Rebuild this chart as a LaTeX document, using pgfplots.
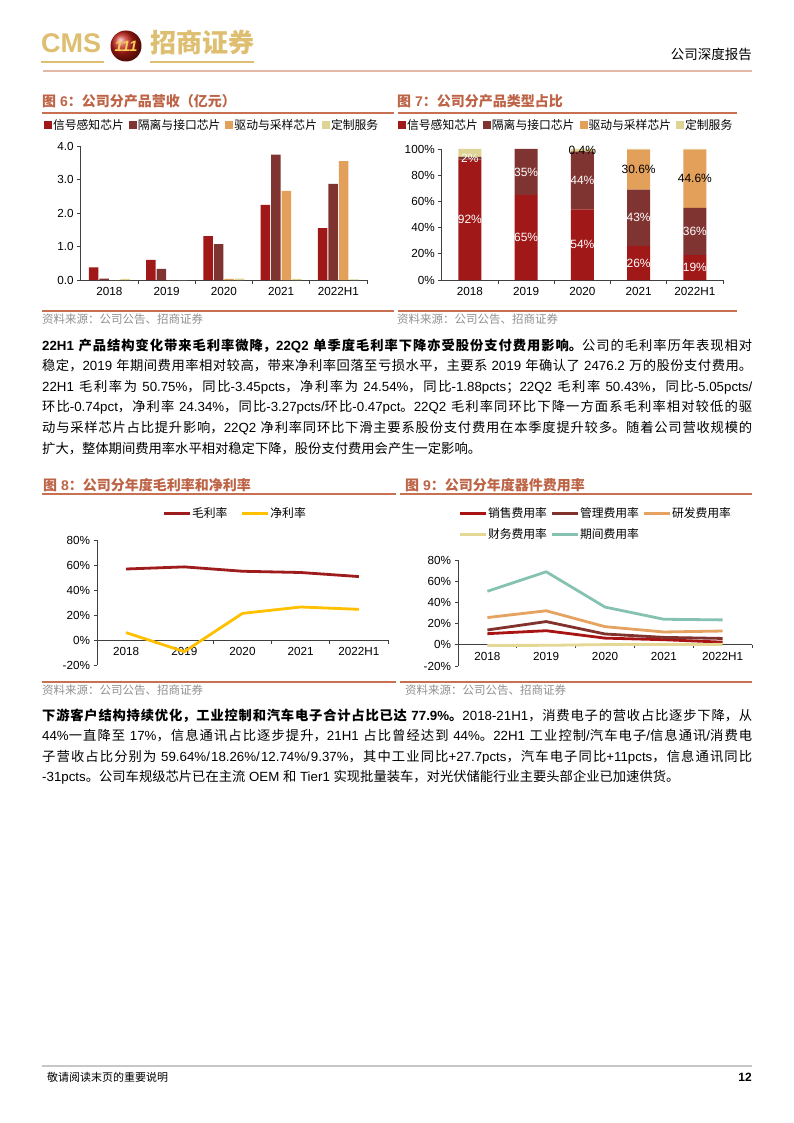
\documentclass[border=0pt]{standalone}
\usepackage{fontspec}
\usepackage{pgfplots}
\pgfplotsset{compat=1.18}
\setmainfont{Liberation Sans}
\newfontfamily\cjk{Noto Sans CJK SC}

% CJK runs switch to the CJK font by themselves
\XeTeXlinebreaklocale "zh"
\XeTeXlinebreakskip=0pt plus 2pt
\newXeTeXintercharclass\cjkclass
\newcount\cc
\def\cjkrange#1#2{\cc=#1\relax
  \loop\ifnum\cc<#2\relax \XeTeXcharclass\cc=\cjkclass \advance\cc by 1 \repeat}
\cjkrange{"3000}{"3040}
\cjkrange{"4E00}{"A000}
\cjkrange{"FF00}{"FFF0}
\XeTeXinterchartoks 0 \cjkclass={\begingroup\cjk}
\XeTeXinterchartoks 4095 \cjkclass={\begingroup\cjk}
\XeTeXinterchartoks \cjkclass 0={\endgroup}
\XeTeXinterchartoks \cjkclass 4095={\endgroup}
\XeTeXinterchartokenstate=1

\definecolor{cSig}{RGB}{160,24,24}
\definecolor{cIso}{RGB}{128,52,50}
\definecolor{cDrv}{RGB}{226,160,90}
\definecolor{cCus}{RGB}{222,212,148}
\definecolor{cTitle}{RGB}{190,100,70}
\definecolor{cRule}{RGB}{200,112,82}
\definecolor{cHead}{RGB}{228,184,168}
\definecolor{cGold}{RGB}{222,190,112}
\definecolor{cGoldL}{RGB}{250,205,90}
\definecolor{cEmb}{RGB}{190,30,20}
\definecolor{cSrc}{RGB}{145,145,145}
\definecolor{cGross}{RGB}{158,28,28}
\definecolor{cNet}{RGB}{255,192,0}
\definecolor{cSale}{RGB}{168,20,20}
\definecolor{cAdm}{RGB}{130,50,45}
\definecolor{cRD}{RGB}{230,162,96}
\definecolor{cFin}{RGB}{228,216,148}
\definecolor{cPer}{RGB}{134,194,178}

\pgfplotsset{
  rep/.style={
    scale only axis, anchor=south west, clip=false,
    xmin=-0.5, xmax=4.5,
    axis x line*=bottom, axis y line*=left,
    axis line style={black!75, line width=0.7pt},
    tick style={black!75, line width=0.7pt},
    tick align=outside, major tick length=3.5pt,
    xtick={0.5,1.5,2.5,3.5,4.5}, xticklabels={},
    extra x ticks={0,1,2,3,4},
    extra x tick labels={2018,2019,2020,2021,2022H1},
    extra x tick style={tick style={draw=none}},
    ticklabel style={font=\fontsize{11.7}{14}\selectfont, text=black},
    /pgf/number format/assume math mode=true,
    hide obscured x ticks=false, hide obscured y ticks=false,
    legend cell align=left,
  },
  barleg/.style={
    legend columns=4,
    legend image code/.code={\draw[##1,draw=none] (0pt,-4pt) rectangle (8pt,4pt);},
    legend style={draw=none, fill=none, inner sep=0pt, outer sep=0pt,
      font=\fontsize{11.8}{14}\selectfont, nodes={inner sep=1pt},
      /tikz/every even column/.append style={column sep=4pt}},
  },
  lineleg/.style={
    legend image code/.code={\draw[##1,line width=3pt] (0pt,0pt) -- (26pt,0pt);},
    legend style={draw=none, fill=none, inner sep=0pt, outer sep=0pt,
      font=\fontsize{11.8}{14}\selectfont, nodes={inner sep=1pt}},
  },
}
\tikzset{
  title/.style={anchor=base west, inner sep=0pt, text=cTitle, font=\fontsize{14}{14}\selectfont\bfseries},
  src/.style={anchor=base west, inner sep=0pt, text=cSrc, font=\fontsize{11.5}{12}\selectfont},
  body/.style={anchor=base west, inner sep=0pt, text width=710pt, align=justify, font=\fontsize{13.3}{20.6}\selectfont},
}

\begin{document}
\begin{tikzpicture}
\useasboundingbox (0pt,0pt) rectangle (794pt,-1123pt);
\fill[white] (0pt,0pt) rectangle (794pt,-1123pt);

% header
\node[anchor=base west, inner sep=0pt, text=cGold, font=\fontsize{27}{27}\selectfont\bfseries] at (41pt,-53pt) {CMS};
\draw[cGold, line width=1.5pt] (41pt,-62pt) -- (104pt,-62pt);
\shade[ball color=cEmb] (126pt,-46pt) circle (15.5pt);
\node[text=cGoldL, font=\fontsize{15}{15}\selectfont\bfseries\itshape] at (126pt,-46pt) {111};
\node[anchor=base west, inner sep=0pt, text=cGold, font=\fontsize{26}{26}\selectfont\bfseries] at (150pt,-53pt) {招商证券};
\draw[cGold, line width=1.5pt] (150pt,-62pt) -- (254pt,-62pt);
\node[anchor=base east, inner sep=0pt, font=\fontsize{13.5}{14}\selectfont] at (752pt,-60pt) {公司深度报告};
\draw[cHead, line width=1.6pt] (43pt,-71pt) -- (752pt,-71pt);

% figure 6 and 7 frames
\node[title] at (42pt,-107pt) {图 6：公司分产品营收（亿元）};
\node[title] at (397pt,-107pt) {图 7：公司分产品类型占比};
\draw[cRule, line width=2pt] (42pt,-113pt) -- (394pt,-113pt);
\draw[cRule, line width=2pt] (398pt,-113pt) -- (737pt,-113pt);
\draw[cRule, line width=2pt] (42pt,-311pt) -- (394pt,-311pt);
\draw[cRule, line width=2pt] (398pt,-311pt) -- (737pt,-311pt);
\node[src] at (42pt,-323pt) {资料来源：公司公告、招商证券};
\node[src] at (397pt,-323pt) {资料来源：公司公告、招商证券};

\begin{axis}[rep, at={(80.7pt,-280pt)}, width=286.3pt, height=134pt,
    ymin=0, ymax=4, ytick={0,1,2,3,4},
    yticklabel style={/pgf/number format/fixed, /pgf/number format/fixed zerofill, /pgf/number format/precision=1},
    ybar=1pt, bar width=9.5pt, barleg,
    legend style={at={(-0.128,1.157)}, anchor=west}]
  \addplot[fill=cSig, draw=none] coordinates {(0,0.38) (1,0.60) (2,1.31) (3,2.24) (4,1.55)};
  \addplot[fill=cIso, draw=none] coordinates {(0,0.04) (1,0.33) (2,1.07) (3,3.74) (4,2.87)};
  \addplot[fill=cDrv, draw=none] coordinates {(0,0) (1,0) (2,0.03) (3,2.66) (4,3.55)};
  \addplot[fill=cCus, draw=none] coordinates {(0,0.03) (1,0) (2,0.04) (3,0.03) (4,0.02)};
  \legend{信号感知芯片,隔离与接口芯片,驱动与采样芯片,定制服务}
\end{axis}

\begin{axis}[rep, at={(441.7pt,-280pt)}, width=281.3pt, height=131pt,
    ymin=0, ymax=100, ytick={0,20,...,100},
    yticklabel={\pgfmathprintnumber{\tick}\%},
    ybar stacked, bar width=23pt, barleg,
    legend style={at={(-0.155,1.183)}, anchor=west}]
  \addplot[fill=cSig, draw=none] coordinates {(0,92) (1,65) (2,54) (3,26) (4,19)};
  \addplot[fill=cIso, draw=none] coordinates {(0,2) (1,35) (2,44) (3,43) (4,36)};
  \addplot[fill=cDrv, draw=none] coordinates {(0,0) (1,0) (2,0.4) (3,30.6) (4,44.6)};
  \addplot[fill=cCus, draw=none] coordinates {(0,6) (1,0) (2,1.6) (3,0.4) (4,0.4)};
  \legend{信号感知芯片,隔离与接口芯片,驱动与采样芯片,定制服务}
\end{axis}
% segment labels of figure 7, at the middle of each segment
\begin{axis}[scale only axis, anchor=south west, at={(441.7pt,-280pt)}, width=281.3pt, height=131pt,
    xmin=-0.5, xmax=4.5, ymin=0, ymax=100, hide axis, clip=false,
    nodes near coords, point meta=explicit symbolic,
    every node near coord/.append style={anchor=center, inner sep=0pt, font=\fontsize{12}{14}\selectfont}]
  \addplot[draw=none, mark=none, every node near coord/.append style={text=white}] coordinates {
    (0,46) [92\%] (1,32.5) [65\%] (2,27) [54\%] (3,13) [26\%] (4,9.5) [19\%]
    (0,92.5) [2\%] (1,82.5) [35\%] (2,76) [44\%] (3,47.5) [43\%] (4,37) [36\%]};
  \addplot[draw=none, mark=none, every node near coord/.append style={text=black}] coordinates {
    (2,99) [0.4\%] (3,84.3) [30.6\%] (4,77.3) [44.6\%]};
\end{axis}

% body text 1
\node[body] at (42pt,-350pt) {{\bfseries 22H1 产品结构变化带来毛利率微降，22Q2 单季度毛利率下降亦受股份支付费用影响。}公司的毛利率历年表现相对\linebreak
稳定，2019 年期间费用率相对较高，带来净利率回落至亏损水平，主要系 2019 年确认了 2476.2 万的股份支付费用。\linebreak
22H1 毛利率为 50.75\%，同比-3.45pcts，净利率为 24.54\%，同比-1.88pcts；22Q2 毛利率 50.43\%，同比-5.05pcts/\linebreak
环比-0.74pct，净利率 24.34\%，同比-3.27pcts/环比-0.47pct。22Q2 毛利率同环比下降一方面系毛利率相对较低的驱\linebreak
动与采样芯片占比提升影响，22Q2 净利率同环比下滑主要系股份支付费用在本季度提升较多。随着公司营收规模的\linebreak
扩大，整体期间费用率水平相对稳定下降，股份支付费用会产生一定影响。};

% figure 8 and 9 frames
\node[title] at (43pt,-490pt) {图 8：公司分年度毛利率和净利率};
\node[title] at (405pt,-490pt) {图 9：公司分年度器件费用率};
\draw[cRule, line width=2pt] (42pt,-494pt) -- (396pt,-494pt);
\draw[cRule, line width=2pt] (400pt,-494pt) -- (752pt,-494pt);
\draw[cRule, line width=2pt] (42pt,-682pt) -- (396pt,-682pt);
\draw[cRule, line width=2pt] (400pt,-682pt) -- (752pt,-682pt);
\node[src] at (42pt,-694pt) {资料来源：公司公告、招商证券};
\node[src] at (405pt,-694pt) {资料来源：公司公告、招商证券};

\begin{axis}[rep, lineleg, at={(97pt,-665pt)}, width=291pt, height=125pt,
    axis x line*=middle, ymin=-20, ymax=80, ytick={-20,0,...,80},
    yticklabel={\pgfmathprintnumber{\tick}\%},
    legend columns=2,
    legend style={at={(0.2234,1.216)}, anchor=west,
      /tikz/every even column/.append style={column sep=12pt}}]
  \addplot[cGross, line width=2.8pt, mark=none, line join=round] coordinates {(0,56.8) (1,58.5) (2,55.0) (3,54.0) (4,50.75)};
  \addplot[cNet, line width=2.8pt, mark=none, line join=round] coordinates {(0,5.9) (1,-9.3) (2,21.3) (3,26.4) (4,24.54)};
  \legend{毛利率,净利率}
\end{axis}

\begin{axis}[rep, lineleg, at={(458pt,-666pt)}, width=294pt, height=106pt,
    axis x line*=middle, ymin=-20, ymax=80, ytick={-20,0,...,80},
    yticklabel={\pgfmathprintnumber{\tick}\%},
    legend columns=3,
    legend style={at={(0,1.34)}, anchor=west, row sep=8pt,
      nodes={text width=60pt},
      /tikz/every even column/.append style={column sep=1pt}}]
  \addplot[cSale, line width=2.8pt, mark=none, line join=round] coordinates {(0,10.5) (1,13.3) (2,6.3) (3,4.8) (4,2.5)};
  \addplot[cAdm, line width=2.8pt, mark=none, line join=round] coordinates {(0,14.0) (1,21.9) (2,10.2) (3,7.0) (4,6.0)};
  \addplot[cRD, line width=2.8pt, mark=none, line join=round] coordinates {(0,25.7) (1,32.1) (2,17.1) (3,12.1) (4,13.0)};
  \addplot[cFin, line width=2.8pt, mark=none, line join=round] coordinates {(0,-0.6) (1,-0.5) (2,0.2) (3,0.3) (4,0.4)};
  \addplot[cPer, line width=2.8pt, mark=none, line join=round] coordinates {(0,50.5) (1,68.9) (2,35.6) (3,24.1) (4,23.5)};
  \legend{销售费用率,管理费用率,研发费用率,财务费用率,期间费用率}
\end{axis}

% body text 2
\node[body] at (42pt,-720pt) {{\bfseries 下游客户结构持续优化，工业控制和汽车电子合计占比已达 77.9\%。}2018-21H1，消费电子的营收占比逐步下降，从\linebreak
44\%一直降至 17\%，信息通讯占比逐步提升，21H1 占比曾经达到 44\%。22H1 工业控制/汽车电子/信息通讯/消费电\linebreak
子营收占比分别为 59.64\%/18.26\%/12.74\%/9.37\%，其中工业同比+27.7pcts，汽车电子同比+11pcts，信息通讯同比\linebreak
-31pcts。公司车规级芯片已在主流 OEM 和 Tier1 实现批量装车，对光伏储能行业主要头部企业已加速供货。};

% footer
\draw[black!22, line width=2pt] (42pt,-1066pt) -- (752pt,-1066pt);
\node[anchor=base west, inner sep=0pt, font=\fontsize{11}{11}\selectfont] at (47pt,-1081pt) {敬请阅读末页的重要说明};
\node[anchor=base east, inner sep=0pt, font=\fontsize{12}{12}\selectfont\bfseries] at (752pt,-1081pt) {12};
\end{tikzpicture}
\end{document}
